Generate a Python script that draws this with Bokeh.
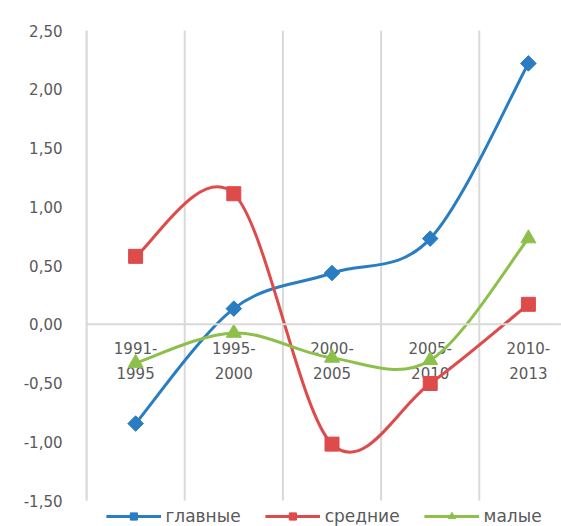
import numpy as np
from bokeh.plotting import figure
from bokeh.models import (ColumnDataSource, Range1d, FixedTicker, CustomJSTickFormatter,
                          Span, Legend, LegendItem)
from bokeh.core.properties import value
from bokeh.embed import file_html
from bokeh.resources import INLINE

categories = ["1991-\n1995", "1995-\n2000", "2000-\n2005", "2005-\n2010", "2010-\n2013"]
glavnye = [-0.845, 0.133, 0.436, 0.729, 2.22]
srednie = [0.578, 1.111, -1.02, -0.504, 0.17]
malye = [-0.33, -0.074, -0.286, -0.306, 0.73]
series_names = ["главные", "средние", "малые"]
y_ticks = [-1.5, -1.0, -0.5, 0.0, 0.5, 1.0, 1.5, 2.0, 2.5]

colors = ["#2A7DC2", "#DE4B4B", "#8CC04B"]
markers = ["square", "square", "triangle"]
angles = [np.pi / 4, 0.0, 0.0]
msizes = [11, 14, 15]
FONT = "DejaVu Sans"
TXT = "#595959"
GRID = "#d9d9d9"

xs = list(range(1, len(categories) + 1))
ymin, ymax = min(y_ticks), max(y_ticks)

p = figure(width=561, height=526, output_backend="svg", toolbar_location=None,
           x_range=Range1d(0.5, 0.5 + (561 - 86) / 98.2),
           y_range=Range1d(ymin - 26 / 117.6, ymax),
           min_border_left=86, min_border_top=30, min_border_right=0, min_border_bottom=0)
p.outline_line_color = None
p.background_fill_color = "white"
p.border_fill_color = "white"

p.xaxis.visible = False
p.grid.visible = False

# vertical separators between categories
bx = [i + 0.5 for i in range(0, len(categories) + 1)]
p.segment(x0=bx, y0=[ymin] * len(bx), x1=bx, y1=[ymax] * len(bx), line_color=GRID, line_width=2)

ax = p.yaxis[0]
ax.ticker = FixedTicker(ticks=y_ticks)
ax.bounds = (ymin, ymax)
ax.formatter = CustomJSTickFormatter(code="return tick.toFixed(2).replace('.', ',');")
ax.axis_line_color = GRID
ax.axis_line_width = 2
ax.major_tick_line_color = None
ax.minor_tick_line_color = None
ax.major_label_standoff = 18
ax.major_label_text_font = FONT
ax.major_label_text_font_size = "15px"
ax.major_label_text_color = TXT

p.add_layout(Span(location=0, dimension="width", line_color=GRID, line_width=2))

# category labels along the zero line
cat_src = ColumnDataSource(dict(x=xs, y=[0] * len(xs), t=categories))
p.text(x="x", y="y", text="t", source=cat_src, text_align="center", text_baseline="top",
       y_offset=16, text_font=value(FONT), text_font_size="15px", text_color=TXT,
       text_line_height=1.4)


def smooth(xv, yv):
    n = len(xv)
    d = dict(x0=[], y0=[], x1=[], y1=[], cx0=[], cy0=[], cx1=[], cy1=[])
    for i in range(n - 1):
        xp, yp = (xv[i - 1], yv[i - 1]) if i > 0 else (xv[i], yv[i])
        xn, yn = (xv[i + 2], yv[i + 2]) if i + 2 < n else (xv[i + 1], yv[i + 1])
        d["x0"].append(xv[i]); d["y0"].append(yv[i])
        d["x1"].append(xv[i + 1]); d["y1"].append(yv[i + 1])
        d["cx0"].append(xv[i] + (xv[i + 1] - xp) / 6); d["cy0"].append(yv[i] + (yv[i + 1] - yp) / 6)
        d["cx1"].append(xv[i + 1] - (xn - xv[i]) / 6); d["cy1"].append(yv[i + 1] - (yn - yv[i]) / 6)
    return ColumnDataSource(d)


items = []
for name, ys, c, m, a, s in zip(series_names, [glavnye, srednie, malye], colors, markers, angles, msizes):
    br = p.bezier(x0="x0", y0="y0", x1="x1", y1="y1", cx0="cx0", cy0="cy0", cx1="cx1", cy1="cy1",
                  source=smooth(xs, ys), line_color=c, line_width=3)
    sr = p.scatter(x=xs, y=ys, marker=m, angle=a, size=s, fill_color=c, line_color=c)
    items.append(LegendItem(label=name, renderers=[br, sr]))

legend = Legend(items=items, orientation="horizontal", location="bottom_center",
                label_text_font=FONT, label_text_font_size="17px", label_text_color=TXT,
                glyph_width=55, glyph_height=18, label_height=18, padding=0, margin=0,
                spacing=24, label_standoff=5, border_line_color=None,
                background_fill_alpha=0)
p.add_layout(legend)

open("out.html", "w").write(file_html(p, INLINE))
